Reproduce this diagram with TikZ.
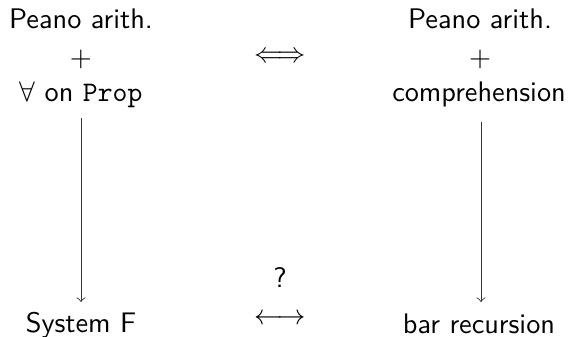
\documentclass[tikz,border=0pt]{standalone}
\usepackage{amssymb}
\usetikzlibrary{calc}
\tikzset{
  lbl/.style={inner sep=0pt, anchor=base, font=\sffamily},
  arr/.style={->, line width=0.3pt, draw=black!80}
}
\begin{document}
\begin{tikzpicture}[x=0.3533pt, y=-0.3533pt]
\useasboundingbox (0,0) rectangle (571,336);
% left column
\node[lbl] (lpa) at (81,28) {Peano arith.};
\node[lbl] (lplus) at (81,66) {$+$};
\node[lbl] (lp) at (81,101) {$\forall$ on \texttt{Prop}};
% right column
\node[lbl] (rpa) at (480,28) {Peano arith.};
\node[lbl] (rplus) at (480,66) {$+$};
\node[lbl] (comp) at (479,101) {comprehension};
% bottom
\node[lbl] (sf) at (81,332) {System F};
\node[lbl] (br) at (479,333) {bar recursion};
% middle
\node[lbl] (eq) at (280,62) {$\Longleftrightarrow$};
\node[lbl] (q) at (280,287) {?};
\node[lbl] (lr) at (280,324) {$\longleftrightarrow$};
% vertical arrows
\draw[arr] ($(lp.base)+(0,17)$) -- ($(sf.base)+(0,-30)$);
\draw[arr] ($(comp.base)+(2,21)$) -- ($(br.base)+(2,-31)$);
\end{tikzpicture}
\end{document}
